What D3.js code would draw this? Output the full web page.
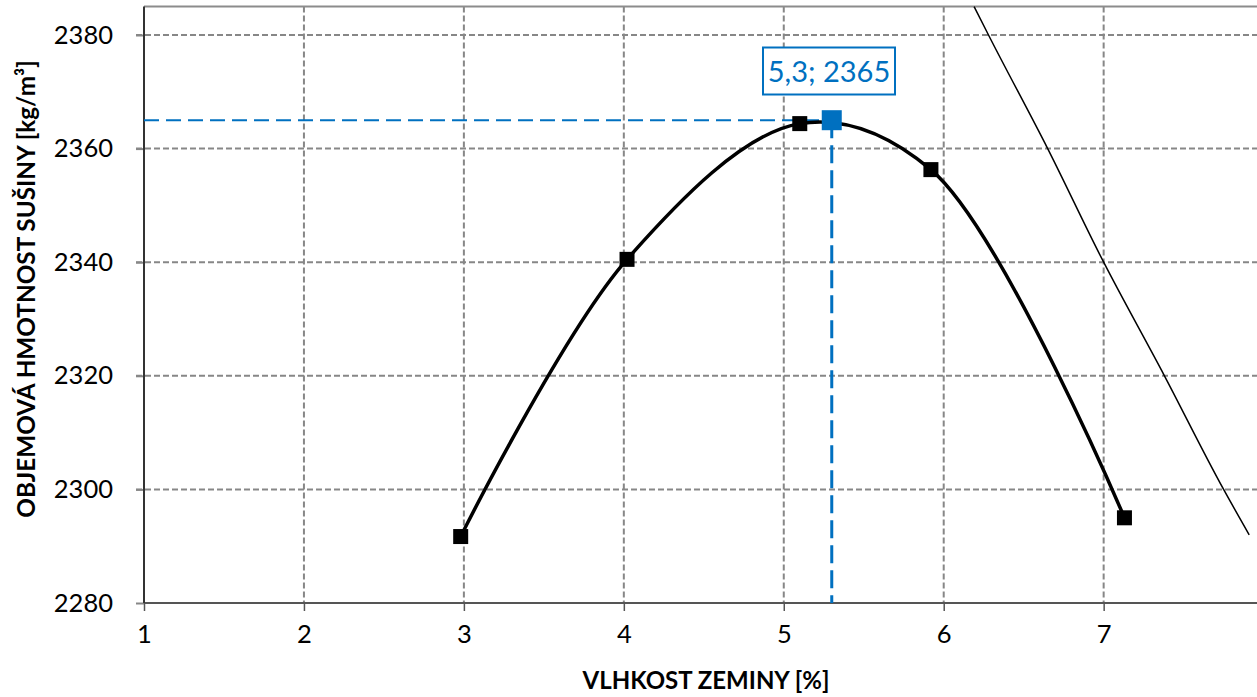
<!DOCTYPE html>
<html><head><meta charset="utf-8">
<script src="https://cdn.jsdelivr.net/npm/d3@7"></script>
<style>
body{margin:0;background:#fff;}
svg{display:block;font-family:Lato,"Open Sans",sans-serif;}
</style>
</head><body>
<svg id="c" width="1257" height="697"></svg>
<script>
// ---- data ----
const moisture = [2.98, 4.02, 5.10, 5.92, 7.13];
const density  = [2291.7, 2340.5, 2364.4, 2356.3, 2295.0];
const zavMoisture = [6.19, 6.28, 6.65, 7.00, 7.38, 7.75, 7.91];
const zavDensity  = [2385, 2380, 2360, 2340, 2320, 2300, 2292];
const optimumX = [5.3];
const optimumY = [2365];
const optimumLabel = ["5,3; 2365"];
const xTicks = [1, 2, 3, 4, 5, 6, 7];
const xGrid = [2, 3, 4, 5, 6, 7, 8];
const yTicks = [2280, 2300, 2320, 2340, 2360, 2380];
const xTitle = "VLHKOST ZEMINY [%]";
const yTitle = "OBJEMOVÁ HMOTNOST SUŠINY [kg/m³]";

(function () {
const svg = d3.select("#c");
const x = d3.scaleLinear().domain([1, 8]).range([144, 1263.6]);
const y = d3.scaleLinear().domain([2280, 2380]).range([603, 35]);
const yTop = 2385;
const pL = x(1), pB = y(2280), pT = y(yTop), pR = x(8);

const grid = svg.append("g");
grid.selectAll("line.h").data(yTicks.filter(d => d !== 2280)).join("line")
  .attr("x1", pL - 8).attr("x2", pR).attr("y1", d => y(d)).attr("y2", d => y(d))
  .attr("stroke", "#878787").attr("stroke-width", 2).attr("stroke-dasharray", "6,3");
grid.selectAll("line.v").data(xGrid).join("line")
  .attr("x1", d => x(d)).attr("x2", d => x(d)).attr("y1", pT).attr("y2", pB)
  .attr("stroke", "#878787").attr("stroke-width", 2).attr("stroke-dasharray", "6,3");
svg.append("line").attr("x1", pL).attr("x2", pR).attr("y1", pT).attr("y2", pT)
  .attr("stroke", "#8c8c8c").attr("stroke-width", 2);

const yAxis = svg.append("g").attr("transform", `translate(${pL},0)`)
  .call(d3.axisLeft(y).tickValues(yTicks).tickSize(8).tickPadding(23).tickFormat(d3.format("d")));
yAxis.select(".domain").remove();
yAxis.selectAll(".tick line").attr("stroke", "#878787").attr("stroke-width", 2);
yAxis.selectAll(".tick text").attr("font-size", 25.5).attr("fill", "#000").attr("font-family", "Lato");

const xAxis = svg.append("g").attr("transform", `translate(0,${pB})`)
  .call(d3.axisBottom(x).tickValues(xTicks).tickSize(8).tickPadding(14).tickFormat(d3.format("d")));
xAxis.select(".domain").remove();
xAxis.selectAll(".tick line").attr("stroke", "#555").attr("stroke-width", 1.5);
xAxis.selectAll(".tick text").attr("font-size", 25.5).attr("fill", "#000").attr("font-family", "Lato");

svg.append("line").attr("x1", pL).attr("x2", pR).attr("y1", pB).attr("y2", pB)
  .attr("stroke", "#555").attr("stroke-width", 2);
svg.append("line").attr("x1", pL).attr("x2", pL).attr("y1", pT).attr("y2", pB)
  .attr("stroke", "#333").attr("stroke-width", 2);

const zav = zavMoisture.map((m, i) => [m, zavDensity[i]]);
svg.append("path").datum(zav)
  .attr("d", d3.line().x(d => x(d[0])).y(d => y(d[1])).curve(d3.curveMonotoneY))
  .attr("fill", "none").attr("stroke", "#000").attr("stroke-width", 1.5);

const ox = x(optimumX[0]), oy = y(optimumY[0]);
svg.append("line").attr("x1", pL).attr("x2", ox).attr("y1", oy).attr("y2", oy)
  .attr("stroke", "#0070C0").attr("stroke-width", 2).attr("stroke-dasharray", "15,7");
svg.append("line").attr("x1", ox).attr("x2", ox).attr("y1", oy).attr("y2", pB)
  .attr("stroke", "#0070C0").attr("stroke-width", 3).attr("stroke-dasharray", "18,7");

const pts = moisture.map((m, i) => [m, density[i]]);
svg.append("path").datum(pts)
  .attr("d", d3.line().x(d => x(d[0])).y(d => y(d[1])).curve(d3.curveCatmullRom.alpha(0.5)))
  .attr("fill", "none").attr("stroke", "#000").attr("stroke-width", 3.5);

svg.selectAll("rect.pt").data(pts).join("rect")
  .attr("x", d => x(d[0]) - 7.5).attr("y", d => y(d[1]) - 7.5)
  .attr("width", 15).attr("height", 15).attr("fill", "#000");

svg.append("rect").attr("x", ox - 10).attr("y", oy - 10).attr("width", 20).attr("height", 20)
  .attr("fill", "#0070C0");

const lg = svg.append("g");
lg.append("rect").attr("x", 763).attr("y", 47.5).attr("width", 132).attr("height", 47)
  .attr("fill", "#fff").attr("stroke", "#0070C0").attr("stroke-width", 2);
lg.append("text").attr("x", 829).attr("y", 82).attr("text-anchor", "middle")
  .attr("font-size", 29).attr("fill", "#0070C0").text(optimumLabel[0]);

svg.append("text").attr("x", 706).attr("y", 689).attr("text-anchor", "middle")
  .attr("font-size", 24).attr("font-weight", "bold").attr("fill", "#000").text(xTitle);
svg.append("text").attr("transform", `translate(35,289) rotate(-90)`).attr("text-anchor", "middle")
  .attr("font-size", 24.3).attr("font-weight", "bold").attr("fill", "#000").text(yTitle);
})();
</script>
</body></html>
